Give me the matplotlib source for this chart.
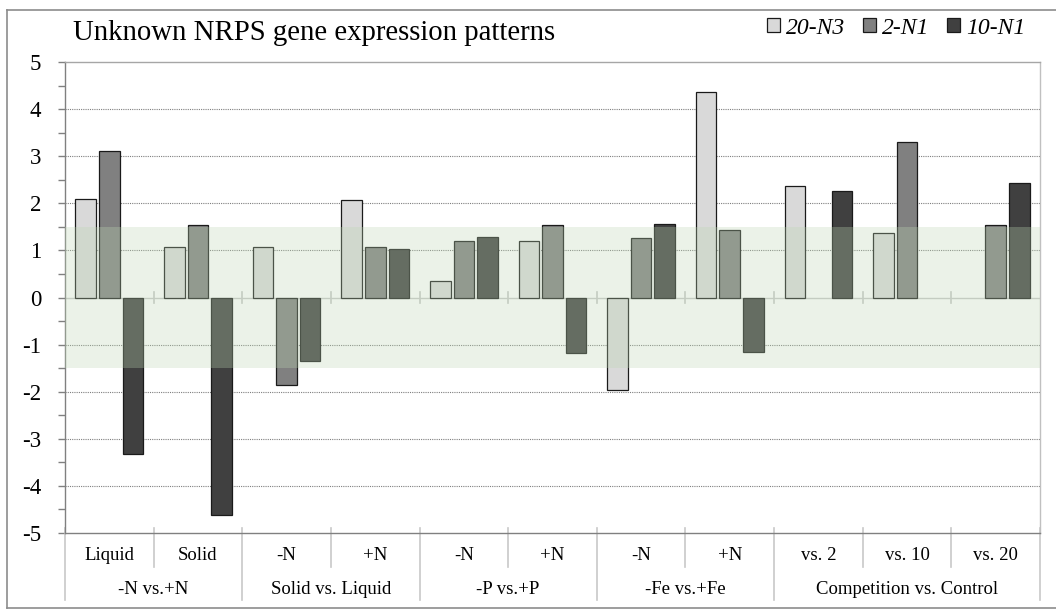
import matplotlib
matplotlib.use("Agg")
import matplotlib.pyplot as plt
from matplotlib.lines import Line2D
from matplotlib.patches import Patch
import numpy as np

plt.rcParams['font.family'] = ['Liberation Serif', 'DejaVu Serif']
plt.rcParams['axes.unicode_minus'] = False

# ---- data ----
title = "Unknown NRPS gene expression patterns"
series_names = ["20-N3", "2-N1", "10-N1"]
series_colors = ["#d9d9d9", "#808080", "#404040"]

conditions = ["Liquid", "Solid", "-N", "+N", "-N", "+N", "-N", "+N",
              "vs. 2", "vs. 10", "vs. 20"]
groups = ["-N vs.+N", "Solid vs. Liquid", "-P vs.+P", "-Fe vs.+Fe",
          "Competition vs. Control"]
group_sizes = [2, 2, 2, 2, 3]

# no value for a strain compared against itself
nan = np.nan
vals_20N3 = [2.09, 1.07, 1.07, 2.08, 0.35, 1.21, -1.97, 4.36, 2.36, 1.36, nan]
vals_2N1 = [3.11, 1.54, -1.86, 1.07, 1.20, 1.54, 1.27, 1.43, nan, 3.31, 1.53]
vals_10N1 = [-3.32, -4.62, -1.35, 1.04, 1.28, -1.18, 1.55, -1.16, 2.27, nan, 2.44]

band_low, band_high = -1.5, 1.5
y_ticks = list(range(-5, 6))

# ---- figure ----
fig = plt.figure(figsize=(10.56, 6.10), dpi=100)
ax = fig.add_axes([65 / 1056, 1 - 533 / 610, (1040 - 65) / 1056, (533 - 62) / 610])

n = len(conditions)
x = np.arange(n)
offset = 0.266
width = 0.232
for k, (vals, col, name) in enumerate(zip([vals_20N3, vals_2N1, vals_10N1],
                                          series_colors, series_names)):
    v = np.array(vals, dtype=float)
    ok = ~np.isnan(v)
    ax.bar(x[ok] + (k - 1) * offset, v[ok], width=width, color=col,
           edgecolor="#1a1a1a", linewidth=0.9, zorder=3, label=name)

# neutral band
ax.axhspan(band_low, band_high, color=(189 / 255, 215 / 255, 179 / 255),
           alpha=0.3, linewidth=0, zorder=4)

ax.set_xlim(-0.5, n - 0.5)
ax.set_ylim(-5, 5)

# grid
for yv in y_ticks:
    if yv in (-5, 0, 5):
        continue
    ax.axhline(yv, color="#7f7f7f", linewidth=0.8, linestyle=(0, (1, 1)), zorder=1)
ax.axhline(0, color="#c8c8c8", linewidth=1.0, zorder=2)

# y axis
ax.set_yticks(y_ticks)
ax.set_yticks(np.arange(-5, 5.01, 0.5), minor=True)
ax.tick_params(axis="y", which="both", direction="out", length=5, width=1,
               color="#808080", labelsize=16.5, pad=12)
ax.tick_params(axis="x", which="both", bottom=False, labelbottom=False)

for side, col in [("left", "#808080"), ("bottom", "#808080"),
                  ("top", "#a6a6a6"), ("right", "#c0c0c0")]:
    ax.spines[side].set_color(col)
    ax.spines[side].set_linewidth(1.0)

# tick marks across the zero line at category boundaries
for b in np.arange(0.5, n - 0.5, 1.0):
    ax.plot([b, b], [-0.12, 0.12], color="#c8c8c8", linewidth=1.2, zorder=2)

# category axis below the plot
trans = ax.get_xaxis_transform()
h = 533 - 62
y_top = 5 / h
y_inner = -(567 - 533) / h
y_outer = -(600 - 533) / h
y_cat = -(555 - 533) / h
y_grp = -(589 - 533) / h

group_edges = np.cumsum([0] + group_sizes) - 0.5
for b in np.arange(-0.5, n, 1.0):
    is_group = np.any(np.isclose(group_edges, b))
    ax.plot([b, b], [y_top, y_outer if is_group else y_inner], transform=trans,
            color="#c8c8c8", linewidth=1.2, clip_on=False)

for i, lab in enumerate(conditions):
    ax.text(i, y_cat, lab, transform=trans, ha="center", va="center", fontsize=13.5)
for g, lab in enumerate(groups):
    c = (group_edges[g] + group_edges[g + 1]) / 2
    ax.text(c, y_grp, lab, transform=trans, ha="center", va="center", fontsize=13.5)

# title and legend
fig.text(73 / 1056, 1 - 33 / 610, title, ha="left", va="center", fontsize=20.7)
handles = [Patch(facecolor=c, edgecolor="#1a1a1a", linewidth=0.9) for c in series_colors]
leg = fig.legend(handles, series_names, ncol=3, frameon=False,
                 loc="center right", bbox_to_anchor=(1025 / 1056, 1 - 28 / 610),
                 prop={"style": "italic", "size": 17},
                 handlelength=0.55, handleheight=0.55, handletextpad=0.25,
                 columnspacing=0.75, borderpad=0, borderaxespad=0)

# outer frame
frame_col = "#8c8c8c"
fig.add_artist(Line2D([7 / 1056, 7 / 1056], [1 - 10 / 610, 1 - 608 / 610],
                      transform=fig.transFigure, color=frame_col, linewidth=1.2))
fig.add_artist(Line2D([7 / 1056, 1.0], [1 - 10 / 610, 1 - 10 / 610],
                      transform=fig.transFigure, color=frame_col, linewidth=1.2))
fig.add_artist(Line2D([7 / 1056, 1.0], [1 - 608 / 610, 1 - 608 / 610],
                      transform=fig.transFigure, color=frame_col, linewidth=1.2))

fig.savefig("out.png", dpi=100)
